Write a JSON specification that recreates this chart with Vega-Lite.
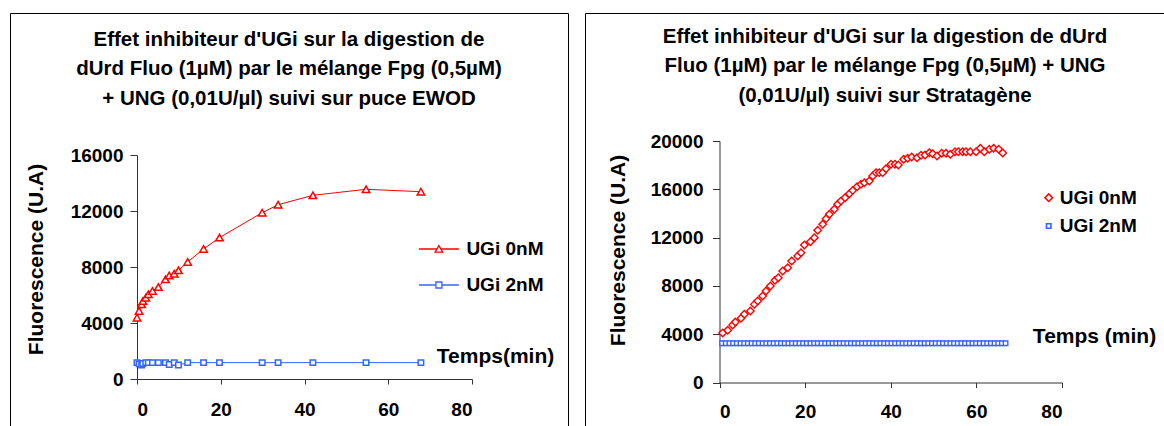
{
"$schema": "https://vega.github.io/schema/vega-lite/v6.json",
"padding": {"left": 9, "top": 12, "right": 0, "bottom": 0},
"background": "white",
"bounds": "flush",
"spacing": 17,
"resolve": {"scale": {"color": "independent", "shape": "independent", "size": "independent"}, "legend": {"color": "independent", "shape": "independent", "size": "independent"}},
"config": {
  "view": {"stroke": "#000", "strokeWidth": 1},
  "font": "Liberation Sans",
  "axis": {"grid": false, "domainColor": "#333", "tickColor": "#333", "labelFont": "Liberation Sans", "labelFontWeight": "bold", "labelFontSize": 19, "labelColor": "#000", "titleFont": "Liberation Sans", "titleFontWeight": "bold", "titleColor": "#000"},
  "title": {"font": "Liberation Sans", "fontWeight": "bold", "color": "#000", "fontSize": 20.5, "lineHeight": 29.5, "anchor": "middle", "frame": "group", "baseline": "top"}
},
"datasets": {
  "left": [
    {"s":"UGi 0nM","t":0,"v":4380},{"s":"UGi 0nM","t":0.5,"v":4860},{"s":"UGi 0nM","t":1.1,"v":5330},{"s":"UGi 0nM","t":1.4,"v":5570},{"s":"UGi 0nM","t":2.1,"v":5810},{"s":"UGi 0nM","t":2.7,"v":6050},{"s":"UGi 0nM","t":3.7,"v":6290},{"s":"UGi 0nM","t":5.1,"v":6570},{"s":"UGi 0nM","t":6.8,"v":7120},{"s":"UGi 0nM","t":7.7,"v":7400},{"s":"UGi 0nM","t":8.9,"v":7520},{"s":"UGi 0nM","t":9.9,"v":7760},{"s":"UGi 0nM","t":12.1,"v":8360},{"s":"UGi 0nM","t":15.9,"v":9290},{"s":"UGi 0nM","t":19.7,"v":10100},{"s":"UGi 0nM","t":29.9,"v":11880},{"s":"UGi 0nM","t":33.7,"v":12450},{"s":"UGi 0nM","t":42,"v":13120},{"s":"UGi 0nM","t":54.7,"v":13550},{"s":"UGi 0nM","t":67.8,"v":13380},
    {"s":"UGi 2nM","t":0,"v":1170},{"s":"UGi 2nM","t":0.5,"v":1080},{"s":"UGi 2nM","t":1.1,"v":1000},{"s":"UGi 2nM","t":1.4,"v":1100},{"s":"UGi 2nM","t":2.1,"v":1170},{"s":"UGi 2nM","t":2.7,"v":1170},{"s":"UGi 2nM","t":3.7,"v":1170},{"s":"UGi 2nM","t":5.1,"v":1170},{"s":"UGi 2nM","t":6.8,"v":1170},{"s":"UGi 2nM","t":7.7,"v":1030},{"s":"UGi 2nM","t":8.9,"v":1170},{"s":"UGi 2nM","t":9.9,"v":1000},{"s":"UGi 2nM","t":12.1,"v":1170},{"s":"UGi 2nM","t":15.9,"v":1170},{"s":"UGi 2nM","t":19.7,"v":1170},{"s":"UGi 2nM","t":29.9,"v":1170},{"s":"UGi 2nM","t":33.7,"v":1170},{"s":"UGi 2nM","t":42,"v":1170},{"s":"UGi 2nM","t":54.7,"v":1170},{"s":"UGi 2nM","t":67.8,"v":1170}
  ],
  "right": [
    {"s":"UGi 0nM","t":0.74,"v":4100},{"s":"UGi 0nM","t":1.91,"v":4320},{"s":"UGi 0nM","t":3.08,"v":4760},{"s":"UGi 0nM","t":3.7,"v":5010},{"s":"UGi 0nM","t":5.02,"v":5320},{"s":"UGi 0nM","t":5.8,"v":5650},{"s":"UGi 0nM","t":7.2,"v":5920},{"s":"UGi 0nM","t":8.14,"v":6470},{"s":"UGi 0nM","t":8.92,"v":6750},{"s":"UGi 0nM","t":10.08,"v":7160},{"s":"UGi 0nM","t":10.86,"v":7580},{"s":"UGi 0nM","t":11.87,"v":7990},{"s":"UGi 0nM","t":12.96,"v":8460},{"s":"UGi 0nM","t":13.74,"v":8680},{"s":"UGi 0nM","t":14.76,"v":9230},{"s":"UGi 0nM","t":15.92,"v":9510},{"s":"UGi 0nM","t":16.86,"v":10060},{"s":"UGi 0nM","t":18.26,"v":10480},{"s":"UGi 0nM","t":19.04,"v":10750},{"s":"UGi 0nM","t":19.82,"v":11390},{"s":"UGi 0nM","t":21.22,"v":11660},{"s":"UGi 0nM","t":22.15,"v":11990},{"s":"UGi 0nM","t":22.93,"v":12600},{"s":"UGi 0nM","t":24.1,"v":13100},{"s":"UGi 0nM","t":24.88,"v":13570},{"s":"UGi 0nM","t":25.66,"v":13930},{"s":"UGi 0nM","t":26.82,"v":14340},{"s":"UGi 0nM","t":27.6,"v":14760},{"s":"UGi 0nM","t":28.38,"v":15030},{"s":"UGi 0nM","t":29.32,"v":15300},{"s":"UGi 0nM","t":30.33,"v":15640},{"s":"UGi 0nM","t":31.11,"v":15910},{"s":"UGi 0nM","t":32.12,"v":16220},{"s":"UGi 0nM","t":33.05,"v":16410},{"s":"UGi 0nM","t":33.83,"v":16550},{"s":"UGi 0nM","t":35.0,"v":16690},{"s":"UGi 0nM","t":35.78,"v":17100},{"s":"UGi 0nM","t":36.56,"v":17380},{"s":"UGi 0nM","t":37.33,"v":17380},{"s":"UGi 0nM","t":38.11,"v":17380},{"s":"UGi 0nM","t":38.89,"v":17710},{"s":"UGi 0nM","t":40.06,"v":18070},{"s":"UGi 0nM","t":40.99,"v":18070},{"s":"UGi 0nM","t":41.77,"v":18010},{"s":"UGi 0nM","t":43.02,"v":18490},{"s":"UGi 0nM","t":43.95,"v":18570},{"s":"UGi 0nM","t":44.89,"v":18680},{"s":"UGi 0nM","t":46.13,"v":18620},{"s":"UGi 0nM","t":47.07,"v":18820},{"s":"UGi 0nM","t":48.0,"v":18840},{"s":"UGi 0nM","t":49.01,"v":19030},{"s":"UGi 0nM","t":49.79,"v":18950},{"s":"UGi 0nM","t":50.81,"v":18760},{"s":"UGi 0nM","t":51.9,"v":18980},{"s":"UGi 0nM","t":52.91,"v":18980},{"s":"UGi 0nM","t":53.92,"v":18900},{"s":"UGi 0nM","t":55.01,"v":19110},{"s":"UGi 0nM","t":55.79,"v":19110},{"s":"UGi 0nM","t":56.8,"v":19110},{"s":"UGi 0nM","t":57.58,"v":19110},{"s":"UGi 0nM","t":58.59,"v":19110},{"s":"UGi 0nM","t":59.92,"v":19110},{"s":"UGi 0nM","t":60.93,"v":19400},{"s":"UGi 0nM","t":61.86,"v":19110},{"s":"UGi 0nM","t":63.03,"v":19310},{"s":"UGi 0nM","t":64.04,"v":19400},{"s":"UGi 0nM","t":65.21,"v":19310},{"s":"UGi 0nM","t":66.15,"v":19000},
    {"s":"UGi 2nM","t":0.6,"v":3250},{"s":"UGi 2nM","t":1.46,"v":3250},{"s":"UGi 2nM","t":2.32,"v":3250},{"s":"UGi 2nM","t":3.18,"v":3250},{"s":"UGi 2nM","t":4.04,"v":3250},{"s":"UGi 2nM","t":4.9,"v":3250},{"s":"UGi 2nM","t":5.76,"v":3250},{"s":"UGi 2nM","t":6.62,"v":3250},{"s":"UGi 2nM","t":7.48,"v":3250},{"s":"UGi 2nM","t":8.34,"v":3250},{"s":"UGi 2nM","t":9.2,"v":3250},{"s":"UGi 2nM","t":10.06,"v":3250},{"s":"UGi 2nM","t":10.92,"v":3250},{"s":"UGi 2nM","t":11.78,"v":3250},{"s":"UGi 2nM","t":12.64,"v":3250},{"s":"UGi 2nM","t":13.5,"v":3250},{"s":"UGi 2nM","t":14.36,"v":3250},{"s":"UGi 2nM","t":15.22,"v":3250},{"s":"UGi 2nM","t":16.08,"v":3250},{"s":"UGi 2nM","t":16.94,"v":3250},{"s":"UGi 2nM","t":17.8,"v":3250},{"s":"UGi 2nM","t":18.66,"v":3250},{"s":"UGi 2nM","t":19.52,"v":3250},{"s":"UGi 2nM","t":20.38,"v":3250},{"s":"UGi 2nM","t":21.24,"v":3250},{"s":"UGi 2nM","t":22.1,"v":3250},{"s":"UGi 2nM","t":22.96,"v":3250},{"s":"UGi 2nM","t":23.82,"v":3250},{"s":"UGi 2nM","t":24.68,"v":3250},{"s":"UGi 2nM","t":25.54,"v":3250},{"s":"UGi 2nM","t":26.4,"v":3250},{"s":"UGi 2nM","t":27.26,"v":3250},{"s":"UGi 2nM","t":28.12,"v":3250},{"s":"UGi 2nM","t":28.98,"v":3250},{"s":"UGi 2nM","t":29.84,"v":3250},{"s":"UGi 2nM","t":30.7,"v":3250},{"s":"UGi 2nM","t":31.56,"v":3250},{"s":"UGi 2nM","t":32.42,"v":3250},{"s":"UGi 2nM","t":33.28,"v":3250},{"s":"UGi 2nM","t":34.14,"v":3250},{"s":"UGi 2nM","t":35.0,"v":3250},{"s":"UGi 2nM","t":35.86,"v":3250},{"s":"UGi 2nM","t":36.72,"v":3250},{"s":"UGi 2nM","t":37.58,"v":3250},{"s":"UGi 2nM","t":38.44,"v":3250},{"s":"UGi 2nM","t":39.3,"v":3250},{"s":"UGi 2nM","t":40.16,"v":3250},{"s":"UGi 2nM","t":41.02,"v":3250},{"s":"UGi 2nM","t":41.88,"v":3250},{"s":"UGi 2nM","t":42.74,"v":3250},{"s":"UGi 2nM","t":43.6,"v":3250},{"s":"UGi 2nM","t":44.46,"v":3250},{"s":"UGi 2nM","t":45.32,"v":3250},{"s":"UGi 2nM","t":46.18,"v":3250},{"s":"UGi 2nM","t":47.04,"v":3250},{"s":"UGi 2nM","t":47.9,"v":3250},{"s":"UGi 2nM","t":48.76,"v":3250},{"s":"UGi 2nM","t":49.62,"v":3250},{"s":"UGi 2nM","t":50.48,"v":3250},{"s":"UGi 2nM","t":51.34,"v":3250},{"s":"UGi 2nM","t":52.2,"v":3250},{"s":"UGi 2nM","t":53.06,"v":3250},{"s":"UGi 2nM","t":53.92,"v":3250},{"s":"UGi 2nM","t":54.78,"v":3250},{"s":"UGi 2nM","t":55.64,"v":3250},{"s":"UGi 2nM","t":56.5,"v":3250},{"s":"UGi 2nM","t":57.36,"v":3250},{"s":"UGi 2nM","t":58.22,"v":3250},{"s":"UGi 2nM","t":59.08,"v":3250},{"s":"UGi 2nM","t":59.94,"v":3250},{"s":"UGi 2nM","t":60.8,"v":3250},{"s":"UGi 2nM","t":61.66,"v":3250},{"s":"UGi 2nM","t":62.52,"v":3250},{"s":"UGi 2nM","t":63.38,"v":3250},{"s":"UGi 2nM","t":64.24,"v":3250},{"s":"UGi 2nM","t":65.1,"v":3250},{"s":"UGi 2nM","t":65.96,"v":3250},{"s":"UGi 2nM","t":66.82,"v":3250}
  ]
},
"hconcat": [
  {
    "width": 558, "height": 430,
    "title": {"text": ["Effet inhibiteur d'UGi sur la digestion de", "dUrd Fluo (1µM) par le mélange Fpg (0,5µM)", "+ UNG (0,01U/µl) suivi sur puce EWOD"], "offset": -96},
    "data": {"name": "left"},
    "encoding": {
      "x": {"field": "t", "type": "quantitative", "scale": {"domain": [0, 80], "range": [127, 462], "nice": false, "zero": false},
        "axis": {"values": [0, 20, 40, 60, 80], "offset": -64, "tickSize": 5, "labelPadding": 16, "title": "Temps(min)", "titleX": 485, "titleY": -23, "titleAlign": "center", "titleBaseline": "middle", "titleFontSize": 21, "titleAngle": 0}},
      "y": {"field": "v", "type": "quantitative", "scale": {"domain": [0, 16000], "range": [366, 142], "nice": false},
        "axis": {"values": [0, 4000, 8000, 12000, 16000], "format": "d", "offset": -127, "tickSize": 7, "labelPadding": 7, "title": "Fluorescence (U.A)", "titleX": -101, "titleY": 246, "titleAlign": "center", "titleBaseline": "middle", "titleFontSize": 21, "titleAngle": -90}},
      "color": {"field": "s", "type": "nominal", "scale": {"domain": ["UGi 0nM", "UGi 2nM"], "range": ["#FF0000", "#3366FF"]},
        "legend": {"orient": "none", "title": null, "padding": 0, "legendX": 419.4, "legendY": 226.5, "symbolSize": 64, "symbolStrokeWidth": 1.3, "symbolFillColor": "white", "labelOffset": 18, "rowPadding": 16,
          "labelFont": "Liberation Sans", "labelFontWeight": "bold", "labelFontSize": 19, "labelColor": "#000",
          "encode": {"symbols": {"update": {"shape": {"signal": "datum.value === 'UGi 0nM' ? 'M-5,0H-0.5M0.5,0H5M0,-0.85L0.95,0.8L-0.95,0.8Z' : 'M-5,0H-0.75M0.75,0H5M-0.75,-0.75H0.75V0.75H-0.75Z'"}}}}}}
    },
    "layer": [
      {"mark": {"type": "line", "strokeWidth": 1}},
      {"transform": [{"filter": "datum.s === 'UGi 0nM'"}],
       "mark": {"type": "point", "shape": "triangle-up", "size": 56, "filled": false, "fill": "white", "strokeWidth": 1.5, "opacity": 1}},
      {"transform": [{"filter": "datum.s === 'UGi 2nM'"}],
       "mark": {"type": "point", "shape": "square", "size": 30, "filled": false, "fill": "white", "strokeWidth": 1.5, "opacity": 1}}
    ]
  },
  {
    "width": 600, "height": 430,
    "title": {"text": ["Effet inhibiteur d'UGi sur la digestion de dUrd", "Fluo (1µM) par le mélange Fpg (0,5µM) + UNG", "(0,01U/µl) suivi sur Stratagène"], "offset": -93.4},
    "data": {"name": "right"},
    "mark": {"type": "point", "filled": false, "fill": "white", "strokeWidth": 1.4, "opacity": 1},
    "encoding": {
      "x": {"field": "t", "type": "quantitative", "scale": {"domain": [0, 80], "range": [134.5, 477], "nice": false, "zero": false},
        "axis": {"values": [0, 20, 40, 60, 80], "offset": -60.5, "tickSize": 5, "labelPadding": 15, "title": "Temps (min)", "titleX": 509, "titleY": -46.5, "titleAlign": "center", "titleBaseline": "middle", "titleFontSize": 21, "titleAngle": 0}},
      "y": {"field": "v", "type": "quantitative", "scale": {"domain": [0, 20000], "range": [369.5, 128], "nice": false},
        "axis": {"values": [0, 4000, 8000, 12000, 16000, 20000], "format": "d", "offset": -134.5, "tickSize": 7, "labelPadding": 9.5, "title": "Fluorescence (U.A)", "titleX": -101.5, "titleY": 237, "titleAlign": "center", "titleBaseline": "middle", "titleFontSize": 21, "titleAngle": -90}},
      "color": {"field": "s", "type": "nominal", "scale": {"domain": ["UGi 0nM", "UGi 2nM"], "range": ["#FF0000", "#3366FF"]},
        "legend": {"orient": "none", "title": null, "padding": 0, "legendX": 454.2, "legendY": 175.2, "symbolSize": 49, "symbolStrokeWidth": 1.6, "symbolFillColor": "white", "labelOffset": 1.5, "rowPadding": 8.3,
          "labelFont": "Liberation Sans", "labelFontWeight": "bold", "labelFontSize": 19, "labelColor": "#000"}},
      "shape": {"field": "s", "type": "nominal", "scale": {"domain": ["UGi 0nM", "UGi 2nM"], "range": ["diamond", "square"]}, "legend": null},
      "size": {"field": "s", "type": "nominal", "scale": {"domain": ["UGi 0nM", "UGi 2nM"], "range": [56, 20]}, "legend": null}
    }
  }
]
}
